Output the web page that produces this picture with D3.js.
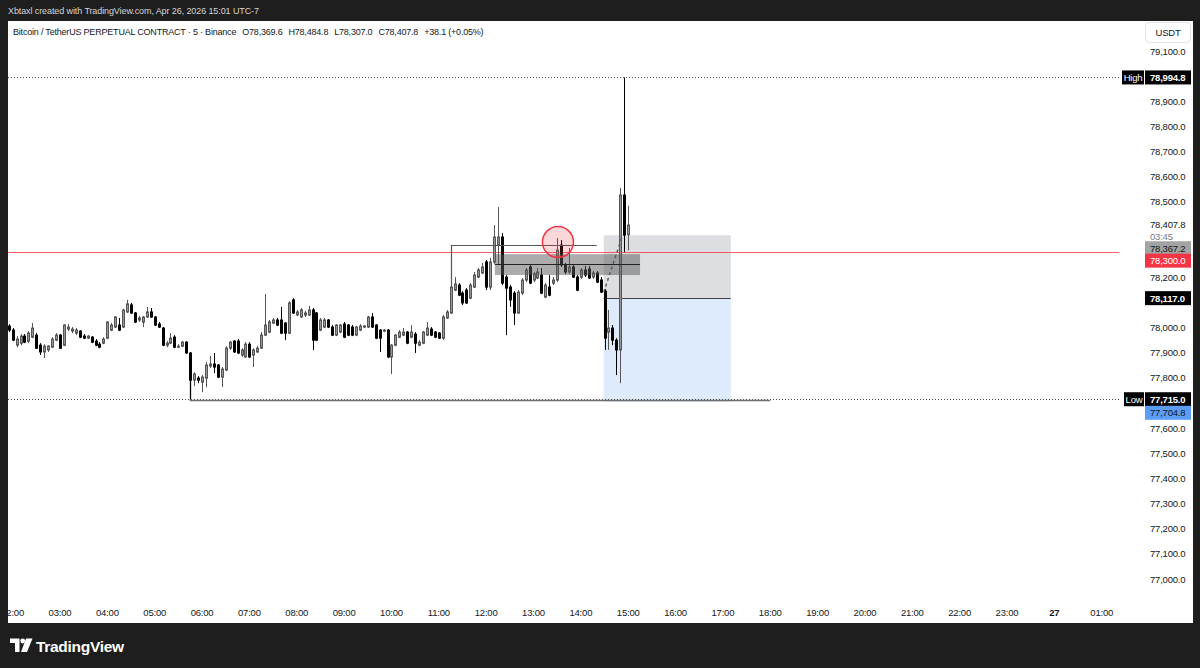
<!DOCTYPE html>
<html>
<head>
<meta charset="utf-8">
<script src="https://cdn.jsdelivr.net/npm/d3@7"></script>
<style>
  html, body { margin: 0; padding: 0; background: #1e1e1e; }
  svg { display: block; font-family: "Liberation Sans", Arial, sans-serif; }
</style>
</head>
<body>
<div id="chart"></div>
<script>
// BTCUSDT.P 5m, Apr 26 2026, first bar 01:55
let startMin = 115,
  stepMin = 5;

let opens = [
  78006, 77990, 77930, 77938, 77966, 77946, 77962, 77970, 77930, 77903,
  77911, 77922, 77950, 77970, 77930, 77994, 77986, 77978, 77986, 77966,
  77958, 77962, 77946, 77934, 77938, 77958, 77990, 78002, 78010, 78002,
  78062, 78090, 78058, 78030, 78022, 78042, 78062, 78042, 78014, 77998,
  77930, 77938, 77962, 77922, 77926, 77942, 77899, 77791, 77799, 77783,
  77799, 77847, 77855, 77851, 77803, 77831, 77918, 77946, 77946, 77891,
  77883, 77934, 77891, 77903, 77918, 77970, 77982, 78018, 78030, 78030,
  78018, 77978, 78110, 78050, 78042, 78050, 78050, 78070, 78058, 77990,
  78002, 78030, 78002, 77970, 77982, 78014, 78010, 78002, 77970, 77990,
  78002, 78002, 78042, 78010, 77990, 77986, 77990, 77883, 77930, 77962,
  77970, 77982, 77962, 77974, 77930, 77938, 77970, 77994, 77982, 77978,
  77958, 78038, 78058, 78149, 78169, 78137, 78149, 78117, 78161, 78201,
  78217, 78261, 78161, 78261, 78328, 78360, 78201, 78161, 78137, 78058,
  78137, 78189, 78241, 78189, 78197, 78209, 78121, 78161, 78177, 78189,
  78328, 78249, 78221, 78241, 78201, 78201, 78229, 78233, 78201, 78217,
  78189, 78145, 77982, 77998, 77950, 77911, 78527, 78369.6
];
let highs = [
  78014, 77998, 77966, 77974, 77974, 77986, 78018, 77978, 77938, 77934,
  77930, 77962, 77978, 77974, 78014, 78014, 78002, 77998, 77990, 77974,
  77970, 77966, 77954, 77942, 77962, 78026, 78018, 78046, 78038, 78074,
  78110, 78098, 78062, 78046, 78046, 78082, 78078, 78046, 78022, 78002,
  77946, 77978, 77970, 77934, 77946, 77946, 77903, 77823, 77807, 77811,
  77863, 77887, 77899, 77855, 77843, 77926, 77946, 77950, 77954, 77918,
  77942, 77942, 77918, 77926, 77982, 78133, 78030, 78038, 78038, 78082,
  78022, 78105, 78117, 78070, 78078, 78066, 78086, 78078, 78062, 78038,
  78038, 78034, 78010, 78014, 78014, 78022, 78014, 78010, 78006, 78014,
  78010, 78046, 78058, 78014, 77994, 77994, 77994, 77934, 77974, 77990,
  77998, 77986, 78010, 77982, 77950, 77986, 78022, 78002, 77986, 77982,
  78050, 78070, 78169, 78201, 78177, 78145, 78157, 78177, 78221, 78237,
  78257, 78269, 78277, 78408, 78479, 78376, 78209, 78169, 78145, 78149,
  78197, 78237, 78249, 78221, 78237, 78237, 78177, 78209, 78201, 78356,
  78348, 78257, 78316, 78249, 78209, 78237, 78245, 78245, 78225, 78225,
  78201, 78153, 78070, 78010, 77958, 78555, 78994.8, 78484.8
];
let lows = [
  77982, 77946, 77922, 77930, 77938, 77938, 77958, 77915, 77891, 77879,
  77903, 77918, 77946, 77915, 77926, 77986, 77978, 77970, 77958, 77954,
  77954, 77938, 77926, 77918, 77934, 77954, 77986, 77998, 77986, 77998,
  78058, 78054, 78018, 78022, 78002, 78038, 78038, 78006, 77998, 77926,
  77922, 77934, 77918, 77918, 77922, 77895, 77715, 77767, 77779, 77743,
  77763, 77839, 77819, 77799, 77763, 77827, 77911, 77899, 77895, 77883,
  77879, 77879, 77843, 77899, 77915, 77966, 77978, 78014, 78006, 77974,
  77950, 77974, 78054, 78046, 78038, 78042, 78046, 77911, 77946, 77986,
  77998, 77998, 77966, 77966, 77978, 77958, 77966, 77966, 77966, 77986,
  77998, 77998, 77998, 77954, 77903, 77982, 77879, 77815, 77926, 77958,
  77966, 77934, 77958, 77899, 77926, 77934, 77966, 77966, 77958, 77954,
  77950, 78034, 78054, 78145, 78125, 78090, 78094, 78113, 78157, 78197,
  78213, 78149, 78149, 78253, 78249, 78169, 77970, 78082, 78010, 78054,
  78129, 78181, 78173, 78181, 78193, 78133, 78117, 78125, 78169, 78181,
  78241, 78213, 78213, 78197, 78145, 78193, 78201, 78193, 78193, 78177,
  78137, 77911, 77911, 77930, 77811, 77779, 78300, 78307.0
];
let closes = [
  77990, 77950, 77954, 77966, 77942, 77978, 77998, 77918, 77903, 77926,
  77926, 77954, 77970, 77918, 78010, 78002, 77994, 77990, 77962, 77958,
  77966, 77942, 77930, 77922, 77954, 78022, 78010, 78042, 77990, 78070,
  78094, 78058, 78022, 78038, 78042, 78062, 78042, 78010, 78002, 77930,
  77938, 77958, 77922, 77926, 77942, 77899, 77791, 77815, 77791, 77803,
  77851, 77855, 77843, 77803, 77835, 77918, 77942, 77903, 77899, 77911,
  77934, 77883, 77911, 77918, 77970, 78010, 78022, 78030, 78010, 77978,
  77978, 78098, 78058, 78062, 78070, 78058, 78070, 77950, 77950, 78030,
  78030, 78002, 77970, 78010, 78010, 77962, 77970, 77970, 78002, 78006,
  78006, 78042, 78002, 77958, 77958, 77990, 77883, 77930, 77970, 77982,
  77982, 77938, 77982, 77938, 77942, 77982, 77998, 77970, 77962, 77958,
  78042, 78062, 78161, 78173, 78129, 78098, 78098, 78169, 78209, 78229,
  78241, 78161, 78261, 78360, 78360, 78177, 78157, 78110, 78058, 78141,
  78189, 78229, 78177, 78213, 78221, 78137, 78169, 78129, 78189, 78308,
  78249, 78221, 78241, 78201, 78149, 78229, 78209, 78197, 78217, 78181,
  78141, 77958, 77998, 77950, 77911, 78527, 78368, 78407.8
];

let priceTicks = [79100, 78900, 78800, 78700, 78600, 78500, 78200, 78000,
  77900, 77800, 77600, 77500, 77400, 77300, 77200, 77100, 77000];
let timeTicks = [120, 180, 240, 300, 360, 420, 480, 540, 600, 660, 720, 780,
  840, 900, 960, 1020, 1080, 1140, 1200, 1260, 1320, 1380, 1440, 1500];
let timeLabels = ["02:00", "03:00", "04:00", "05:00", "06:00", "07:00", "08:00",
  "09:00", "10:00", "11:00", "12:00", "13:00", "14:00", "15:00", "16:00", "17:00",
  "18:00", "19:00", "20:00", "21:00", "22:00", "23:00", "27", "01:00"];
let legendParts = ["Bitcoin / TetherUS PERPETUAL CONTRACT · 5 · Binance",
  "O78,369.6", "H78,484.8", "L78,307.0", "C78,407.8", "+38.1 (+0.05%)"];

let highLevel = 78994.8,
  lowLevel = 77715.0,
  alertLevel = 78300.0;
// long position tool
let posEntry = 78117.0,
  posTarget = 78367.2,
  posStop = 77704.8,
  posStart = 869,
  posEnd = 1030;
// grey zone rectangle
let zoneTop = 78292,
  zoneMid = 78253,
  zoneBottom = 78209,
  zoneStart = 731,
  zoneEnd = 915;

let W = 1200,
  H = 668;
let plot = { left: 8, right: 1119, top: 21, bottom: 598 };

let svg = d3
  .select("#chart")
  .append("svg")
  .attr("width", W)
  .attr("height", H);

let x = d3.scaleLinear().domain([180, 1500]).range([60, 1101.7]);
let y = d3.scaleLinear().domain([77000, 79100]).range([579, 51]);
let fmt = d3.format(",.1f");

// white panel
svg.append("rect").attr("x", 8).attr("y", 21).attr("width", 1185).attr("height", 602).attr("fill", "#fff");

// header
svg.append("text").attr("x", 8).attr("y", 13.5).attr("fill", "#d6d6d6")
  .attr("font-size", 9).attr("letter-spacing", -0.1)
  .text("Xbtaxl created with TradingView.com, Apr 26, 2026 15:01 UTC-7");

svg.append("defs").append("clipPath").attr("id", "clip")
  .append("rect").attr("x", plot.left).attr("y", plot.top)
  .attr("width", plot.right - plot.left).attr("height", plot.bottom - plot.top);
svg.append("defs").append("clipPath").attr("id", "clipT")
  .append("rect").attr("x", plot.left).attr("y", plot.bottom)
  .attr("width", plot.right - plot.left).attr("height", 25);

let g = svg.append("g").attr("clip-path", "url(#clip)");

// position tool boxes
g.append("rect")
  .attr("x", x(posStart)).attr("width", x(posEnd) - x(posStart))
  .attr("y", y(posTarget)).attr("height", y(posEntry) - y(posTarget))
  .attr("fill", "rgba(120,123,134,0.25)");
g.append("rect")
  .attr("x", x(posStart)).attr("width", x(posEnd) - x(posStart))
  .attr("y", y(posEntry)).attr("height", y(posStop) - y(posEntry))
  .attr("fill", "rgba(33,120,243,0.15)");
g.append("line")
  .attr("x1", x(posStart)).attr("x2", x(posEnd))
  .attr("y1", Math.round(y(posEntry)) + 0.5).attr("y2", Math.round(y(posEntry)) + 0.5)
  .attr("stroke", "#444").attr("stroke-width", 1);

// dotted high / low lines
[highLevel, lowLevel].forEach((p) => {
  g.append("line")
    .attr("x1", plot.left).attr("x2", plot.right)
    .attr("y1", Math.round(y(p)) + 0.5).attr("y2", Math.round(y(p)) + 0.5)
    .attr("stroke", "#555").attr("stroke-dasharray", "1,2");
});

// bottom bracket from the low bar
g.append("path")
  .attr("d", `M${Math.round(x(345)) + 0.5},${y(77791)} V${Math.round(y(77712)) + 0.5} H${x(1080)}`)
  .attr("fill", "none").attr("stroke", "#6e6e6e").attr("stroke-width", 1.5);

// alert line
g.append("line")
  .attr("x1", plot.left).attr("x2", plot.right)
  .attr("y1", Math.round(y(alertLevel)) + 0.5).attr("y2", Math.round(y(alertLevel)) + 0.5)
  .attr("stroke", "#f23645").attr("stroke-opacity", 0.8);

// candles
let bars = d3.range(opens.length).map((i) => ({
  t: startMin + i * stepMin,
  o: opens[i], h: highs[i], l: lows[i], c: closes[i],
}));

let cg = g.append("g");
bars.forEach((d) => {
  let cx = Math.round(x(d.t));
  let up = d.c >= d.o;
  cg.append("line")
    .attr("x1", cx + 0.5).attr("x2", cx + 0.5)
    .attr("y1", y(d.h)).attr("y2", y(d.l))
    .attr("stroke", up ? "#555" : "#000");
  let top = y(Math.max(d.o, d.c)),
    bot = y(Math.min(d.o, d.c));
  cg.append("rect")
    .attr("x", cx - 0.5).attr("width", 2)
    .attr("y", top).attr("height", Math.max(1, bot - top))
    .attr("fill", up ? "#969696" : "#000")
    .attr("stroke", up ? "#555" : "#000");
});

// grey zone rectangle
g.append("rect")
  .attr("x", x(zoneStart)).attr("width", x(zoneEnd) - x(zoneStart))
  .attr("y", y(zoneTop)).attr("height", y(zoneBottom) - y(zoneTop))
  .attr("fill", "rgba(90,90,90,0.5)");
g.append("line")
  .attr("x1", x(zoneStart)).attr("x2", x(zoneEnd))
  .attr("y1", Math.round(y(zoneMid)) + 0.5).attr("y2", Math.round(y(zoneMid)) + 0.5)
  .attr("stroke", "#222");

// top bracket
g.append("path")
  .attr("d", `M${Math.round(x(675)) + 0.5},${y(78161)} V${Math.round(y(78327)) + 0.5} H${x(860)}`)
  .attr("fill", "none").attr("stroke", "#555").attr("stroke-width", 1.2);

// dashed entry -> price line
g.append("line")
  .attr("x1", x(posStart)).attr("y1", y(posEntry) - 6)
  .attr("x2", x(893)).attr("y2", y(78368))
  .attr("stroke", "#555").attr("stroke-width", 1.4).attr("stroke-dasharray", "3,3");

// red circle
g.append("circle")
  .attr("cx", x(811)).attr("cy", y(78340)).attr("r", 15.5)
  .attr("fill", "rgba(242,54,69,0.2)").attr("stroke", "#f23645").attr("stroke-width", 1.5);

// legend
svg.append("text").attr("x", 13).attr("y", 34.5).attr("fill", "#131722")
  .attr("font-size", 9).attr("letter-spacing", -0.2)
  .selectAll("tspan")
  .data(legendParts)
  .join("tspan")
  .attr("dx", (d, i) => (i == 0 ? 0 : 6))
  .text((d) => d);

// price scale
let ax = svg.append("g").attr("font-size", 9.5).attr("letter-spacing", -0.2);
ax.append("rect").attr("x", 1145.5).attr("y", 22.5).attr("width", 45).attr("height", 20).attr("rx", 4)
  .attr("fill", "#fff").attr("stroke", "#e0e3eb");
ax.append("text").attr("x", 1168).attr("y", 36).attr("text-anchor", "middle").attr("fill", "#131722").text("USDT");

ax.selectAll("text.tick")
  .data(priceTicks)
  .join("text")
  .attr("class", "tick")
  .attr("x", 1150)
  .attr("y", (d) => y(d) + 3.5)
  .attr("fill", "#131722")
  .text((d) => fmt(d));

// last price + countdown
ax.append("text").attr("x", 1150).attr("y", y(78407.8) + 3).attr("fill", "#131722").text(fmt(78407.8));
ax.append("text").attr("x", 1150).attr("y", y(78407.8) + 14.5).attr("fill", "#787b86").text("03:45");

let labels = [
  { p: highLevel, cy: y(highLevel), bg: "#000", fg: "#fff", tag: "High" },
  { p: posTarget, cy: y(posTarget) + 13, bg: "#a3a3a3", fg: "#131722" },
  { p: alertLevel, cy: y(alertLevel) + 8.5, bg: "#f23645", fg: "#fff" },
  { p: posEntry, cy: y(posEntry), bg: "#000", fg: "#fff" },
  { p: lowLevel, cy: y(lowLevel), bg: "#000", fg: "#fff", tag: "Low" },
  { p: posStop, cy: y(posStop) + 11, bg: "#5b9cf6", fg: "#131722" },
];
labels.forEach((d) => {
  ax.append("rect").attr("x", 1145).attr("y", d.cy - 7).attr("width", 46).attr("height", 14).attr("fill", d.bg);
  ax.append("text").attr("x", 1150).attr("y", d.cy + 3.5).attr("fill", d.fg)
    .attr("font-weight", d.bg == "#000" ? "bold" : null).text(fmt(d.p));
  if (d.tag) {
    let w = d.tag == "High" ? 22 : 20;
    ax.append("rect").attr("x", 1144 - w).attr("y", d.cy - 7).attr("width", w).attr("height", 14).attr("fill", "#000");
    ax.append("text").attr("x", 1144 - w / 2).attr("y", d.cy + 3.5).attr("text-anchor", "middle")
      .attr("fill", "#fff").text(d.tag);
  }
});

// time scale
svg.append("g").attr("clip-path", "url(#clipT)").attr("font-size", 9.5).attr("letter-spacing", -0.2)
  .selectAll("text")
  .data(timeTicks)
  .join("text")
  .attr("x", (d) => x(d))
  .attr("y", 616)
  .attr("text-anchor", "middle")
  .attr("fill", "#131722")
  .attr("font-weight", (d, i) => (timeLabels[i] == "27" ? "bold" : null))
  .text((d, i) => timeLabels[i]);

// footer logo
let logo = svg.append("g").attr("fill", "#fff");
logo.append("path").attr("d", "M10,638.5 h9.5 v13.5 h-4.5 v-9 h-5 z");
logo.append("circle").attr("cx", 22.7).attr("cy", 641).attr("r", 2.4);
logo.append("path").attr("d", "M26,638.5 h6.5 l-5.5 13.5 h-6 z");
svg.append("text").attr("x", 36).attr("y", 651.5).attr("fill", "#fff")
  .attr("font-size", 15.5).attr("font-weight", "bold").attr("letter-spacing", -0.3)
  .text("TradingView");
</script>
</body>
</html>
